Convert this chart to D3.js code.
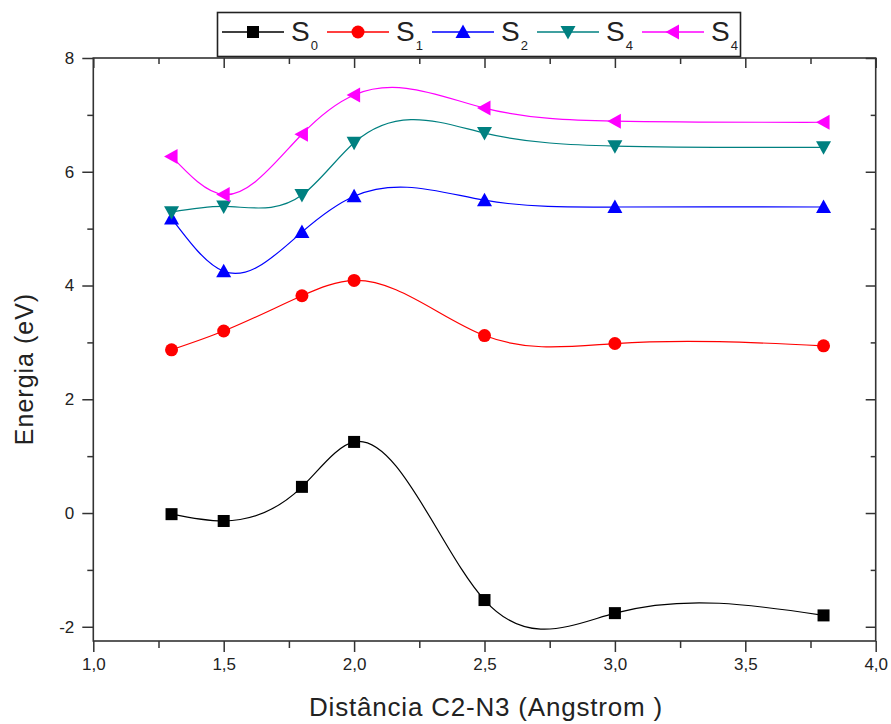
<!DOCTYPE html>
<html>
<head>
<meta charset="utf-8">
<script src="https://cdn.jsdelivr.net/npm/d3@7/dist/d3.min.js"></script>
<style>
  html, body { margin: 0; padding: 0; background: #fff; }
  svg { display: block; font-family: "Liberation Sans", Arial, sans-serif; }
</style>
</head>
<body>
<svg id="chart" width="891" height="724"></svg>
<script>
// ---- data ----
const distances = [1.3, 1.5, 1.8, 2.0, 2.5, 3.0, 3.8];
const s0 = [-0.02, -0.14, 0.46, 1.25, -1.53, -1.76, -1.80];
const s1 = [2.87, 3.20, 3.82, 4.09, 3.12, 2.98, 2.94];
const s2 = [5.18, 4.25, 4.94, 5.57, 5.50, 5.38, 5.38];
const s4a = [5.29, 5.39, 5.59, 6.51, 6.68, 6.45, 6.43];
const s4b = [6.27, 5.60, 6.66, 7.35, 7.12, 6.89, 6.87];
const seriesNames = ["S0", "S1", "S2", "S4", "S4"];
const seriesSubs = ["0", "1", "2", "4", "4"];
const xMajorTicks = [1.0, 1.5, 2.0, 2.5, 3.0, 3.5, 4.0];
const xTickLabels = ["1,0", "1,5", "2,0", "2,5", "3,0", "3,5", "4,0"];
const xMinorTicks = [1.25, 1.75, 2.25, 2.75, 3.25, 3.75];
const yMajorTicks = [-2, 0, 2, 4, 6, 8];
const yTickLabels = ["-2", "0", "2", "4", "6", "8"];
const yMinorTicks = [-1, 1, 3, 5, 7];
const xTitle = "Distância C2-N3 (Angstrom )";
const yTitle = "Energia (eV)";

// ---- styles ----
const seriesValues = [s0, s1, s2, s4a, s4b];
const colors = ["#000000", "#ff0000", "#0000ff", "#008080", "#ff00ff"];
const symbols = ["square", "circle", "triUp", "triDown", "triLeft"];

const svg = d3.select("#chart");
const L = 93.3, R = 875.7, T = 58, B = 641;
const x = d3.scaleLinear().domain([1.0, 4.0]).range([L, R]);
const y = d3.scaleLinear().domain([-2.25, 8]).range([B, T]);

// natural cubic spline y(x) drawn as exact Bezier segments
function curveSplineX(context) {
  let xs, ys;
  return {
    areaStart() {}, areaEnd() {},
    lineStart() { xs = []; ys = []; },
    point(px, py) { xs.push(+px); ys.push(+py); },
    lineEnd() {
      const n = xs.length;
      if (!n) return;
      context.moveTo(xs[0], ys[0]);
      if (n === 1) return;
      if (n === 2) { context.lineTo(xs[1], ys[1]); return; }
      const h = [];
      for (let i = 0; i < n - 1; i++) h[i] = xs[i + 1] - xs[i];
      const M = new Array(n).fill(0);
      const a = [], b = [], c = [], d = [];
      for (let i = 1; i < n - 1; i++) {
        a[i] = h[i - 1]; b[i] = 2 * (h[i - 1] + h[i]); c[i] = h[i];
        d[i] = 6 * ((ys[i + 1] - ys[i]) / h[i] - (ys[i] - ys[i - 1]) / h[i - 1]);
      }
      const cp = [], dp = [];
      for (let i = 1; i < n - 1; i++) {
        if (i === 1) { cp[i] = c[i] / b[i]; dp[i] = d[i] / b[i]; }
        else {
          const m = b[i] - a[i] * cp[i - 1];
          cp[i] = c[i] / m; dp[i] = (d[i] - a[i] * dp[i - 1]) / m;
        }
      }
      for (let i = n - 2; i >= 1; i--) {
        M[i] = dp[i] - (i < n - 2 ? cp[i] * M[i + 1] : 0);
      }
      const slope = [];
      for (let i = 0; i < n - 1; i++) {
        slope[i] = (ys[i + 1] - ys[i]) / h[i] - h[i] * (2 * M[i] + M[i + 1]) / 6;
      }
      slope[n - 1] = (ys[n - 1] - ys[n - 2]) / h[n - 2] + h[n - 2] * (M[n - 2] + 2 * M[n - 1]) / 6;
      for (let i = 0; i < n - 1; i++) {
        const hh = h[i] / 3;
        context.bezierCurveTo(xs[i] + hh, ys[i] + slope[i] * hh,
                              xs[i + 1] - hh, ys[i + 1] - slope[i + 1] * hh,
                              xs[i + 1], ys[i + 1]);
      }
    }
  };
}

function drawSymbol(g, type, cx, cy, color) {
  const s = 6.5;
  if (type === "square") {
    g.append("rect").attr("x", cx - 6).attr("y", cy - 6).attr("width", 12).attr("height", 12).attr("fill", color);
  } else if (type === "circle") {
    g.append("circle").attr("cx", cx).attr("cy", cy).attr("r", 6.5).attr("fill", color);
  } else {
    let pts;
    if (type === "triUp") pts = [[cx, cy - s - 1], [cx - s - 1, cy + s - 0.5], [cx + s + 1, cy + s - 0.5]];
    else if (type === "triDown") pts = [[cx, cy + s + 1], [cx - s - 1, cy - s + 0.5], [cx + s + 1, cy - s + 0.5]];
    else pts = [[cx - s - 1, cy], [cx + s - 0.5, cy - s - 1], [cx + s - 0.5, cy + s + 1]];
    g.append("polygon").attr("points", pts.map(p => p.join(",")).join(" ")).attr("fill", color);
  }
}

// ---- lines and markers ----
const line = d3.line().x(d => x(d[0])).y(d => y(d[1])).curve(curveSplineX);
seriesValues.forEach((vals, k) => {
  const pts = distances.map((dv, i) => [dv, vals[i]]);
  svg.append("path").attr("d", line(pts)).attr("fill", "none")
    .attr("stroke", colors[k]).attr("stroke-width", 1.2);
});
seriesValues.forEach((vals, k) => {
  const g = svg.append("g");
  distances.forEach((dv, i) => drawSymbol(g, symbols[k], x(dv), y(vals[i]), colors[k]));
});

// ---- axes ----
const axisColor = "#333";
function styleAxis(g) {
  g.select(".domain").remove();
  g.selectAll(".tick line").attr("stroke", axisColor).attr("stroke-width", 1.5);
  g.selectAll(".tick text").attr("fill", "#222").attr("font-size", 17);
}
svg.append("g").attr("transform", `translate(0,${B})`)
  .call(d3.axisBottom(x).tickValues(xMajorTicks).tickSize(11).tickPadding(6)
    .tickFormat((d, i) => xTickLabels[i]))
  .call(styleAxis);
svg.append("g").attr("transform", `translate(0,${B})`)
  .call(d3.axisBottom(x).tickValues(xMinorTicks).tickSize(7).tickFormat(""))
  .call(styleAxis);
svg.append("g").attr("transform", `translate(0,${T})`)
  .call(d3.axisBottom(x).tickValues(xMajorTicks).tickSize(10).tickFormat(""))
  .call(styleAxis);
svg.append("g").attr("transform", `translate(0,${T})`)
  .call(d3.axisBottom(x).tickValues(xMinorTicks).tickSize(6).tickFormat(""))
  .call(styleAxis);
svg.append("g").attr("transform", `translate(${L},0)`)
  .call(d3.axisLeft(y).tickValues(yMajorTicks).tickSize(11).tickPadding(8)
    .tickFormat((d, i) => yTickLabels[i]))
  .call(styleAxis);
svg.append("g").attr("transform", `translate(${L},0)`)
  .call(d3.axisLeft(y).tickValues(yMinorTicks).tickSize(6).tickFormat(""))
  .call(styleAxis);
svg.append("g").attr("transform", `translate(${R},0)`)
  .call(d3.axisLeft(y).tickValues(yMajorTicks).tickSize(10).tickFormat(""))
  .call(styleAxis);
svg.append("g").attr("transform", `translate(${R},0)`)
  .call(d3.axisLeft(y).tickValues(yMinorTicks).tickSize(5).tickFormat(""))
  .call(styleAxis);

// frame
svg.append("rect").attr("x", L).attr("y", T).attr("width", R - L).attr("height", B - T)
  .attr("fill", "none").attr("stroke", axisColor).attr("stroke-width", 1.6);

// titles
svg.append("text").attr("x", 486).attr("y", 716)
  .attr("text-anchor", "middle").attr("font-size", 26).attr("letter-spacing", 0.8).attr("fill", "#222")
  .text(xTitle);
svg.append("text").attr("transform", `translate(33,${369}) rotate(-90)`)
  .attr("text-anchor", "middle").attr("font-size", 25).attr("letter-spacing", 1).attr("fill", "#222")
  .text(yTitle);

// ---- legend ----
const lg = svg.append("g");
lg.append("rect").attr("x", 217.5).attr("y", 12.5).attr("width", 523).attr("height", 44)
  .attr("fill", "#fff").attr("stroke", "#222").attr("stroke-width", 1.6);
const legendX0 = 222, legendStep = 105;
seriesNames.forEach((name, k) => {
  const lx = legendX0 + k * legendStep;
  const ly = 32;
  lg.append("line").attr("x1", lx).attr("x2", lx + 62).attr("y1", ly).attr("y2", ly)
    .attr("stroke", colors[k]).attr("stroke-width", 1.3);
  drawSymbol(lg, symbols[k], lx + 31, ly, colors[k]);
  const t = lg.append("text").attr("x", lx + 69).attr("y", 41).attr("fill", "#222").attr("font-size", 28);
  t.append("tspan").text("S");
  t.append("tspan").attr("font-size", 13).attr("dx", 1).attr("dy", 9).text(seriesSubs[k]);
});
</script>
</body>
</html>
